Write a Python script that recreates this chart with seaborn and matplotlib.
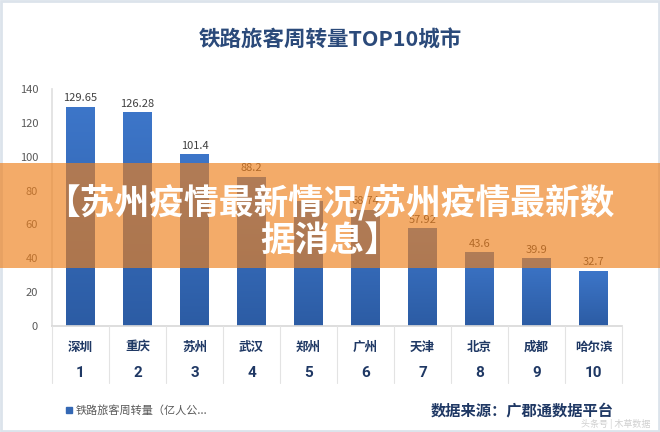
import matplotlib
matplotlib.use("Agg")
import matplotlib.pyplot as plt
import seaborn as sns
import pandas as pd
import numpy as np
from matplotlib.patches import Rectangle
from matplotlib.colors import LinearSegmentedColormap

cities = ["深圳", "重庆", "苏州", "武汉", "郑州", "广州", "天津", "北京", "成都", "哈尔滨"]
ranks = ["1", "2", "3", "4", "5", "6", "7", "8", "9", "10"]
values = [129.65, 126.28, 101.4, 88.2, 74.0, 68.74, 57.92, 43.6, 39.9, 32.7]
value_labels = ["129.65", "126.28", "101.4", "88.2", "", "68.74", "57.92", "43.6", "39.9", "32.7"]
yticks = [0, 20, 40, 60, 80, 100, 120, 140]

sns.set_theme(style="white")
plt.rcParams["font.family"] = ["Noto Sans CJK SC", "DejaVu Sans"]

df = pd.DataFrame({"city": cities, "value": values})

fig = plt.figure(figsize=(6.6, 4.32), dpi=100)
fig.patch.set_facecolor("white")
ax = fig.add_axes([52/660, 1-326/432, 570/660, 237/432])

sns.barplot(data=df, x="city", y="value", color="#3468B4", width=0.5,
            saturation=1, ax=ax, edgecolor="none")
ax.set_ylim(0, 140)
ax.set_xlim(-0.5, 9.5)

# vertical gradient fill for bars
cmap = LinearSegmentedColormap.from_list("bg", ["#2C5CA4", "#3D76C9"])
grad = np.linspace(0, 1, 256).reshape(-1, 1)
for p in list(ax.patches):
    x0, w, h = p.get_x(), p.get_width(), p.get_height()
    im = ax.imshow(grad, cmap=cmap, aspect="auto", origin="lower",
                   extent=[x0, x0 + w, 0, h], zorder=p.get_zorder() + 0.1)
    im.set_clip_path(p)
ax.set_xlim(-0.5, 9.5)
ax.set_ylim(0, 140)

ax.set_yticks(yticks)
ax.set_yticklabels([str(t) for t in yticks], fontsize=8, color="#595959")
ax.tick_params(axis="y", length=0, pad=10)
ax.set_xticks([])
ax.set_xlabel("")
ax.set_ylabel("")
for s in ["top", "right"]:
    ax.spines[s].set_visible(False)
ax.spines["left"].set_color("#E0E0E0")
ax.spines["bottom"].set_color("#D9D9D9")

for i, (v, lab) in enumerate(zip(values, value_labels)):
    if lab:
        ax.text(i, v + 2, lab, ha="center", va="bottom", fontsize=8, color="#404040")

# category table
for k in range(11):
    x = (52 + 57 * k) / 660
    fig.add_artist(plt.Line2D([x, x], [1-326/432, 1-383/432], color="#E3E3E3", lw=0.8))
for i, (c, r) in enumerate(zip(cities, ranks)):
    x = (52 + 57 * i + 28.5) / 660
    fig.text(x, 1-347/432, c, ha="center", va="center", fontsize=9, fontweight="bold", color="#1F3864")
    fig.text(x, 1-373/432, r, ha="center", va="center", fontsize=11, fontweight="bold",
             color="#1F3864", family=["Roboto", "DejaVu Sans"])

# title
fig.text(0.5, 1-40/432, "铁路旅客周转量TOP10城市", ha="center", va="center",
         fontsize=15.5, fontweight="bold", color="#2B4A7A")

# legend and source
fig.add_artist(Rectangle((66/660, 1-413/432), 6/660, 6/432, color="#3468B4", transform=fig.transFigure))
fig.text(76/660, 1-410/432, "铁路旅客周转量（亿人公...", ha="left", va="center", fontsize=8, color="#595959")
fig.text(614/660, 1-410/432, "数据来源：广郡通数据平台", ha="right", va="center",
         fontsize=11, fontweight="bold", color="#1F3864")
fig.text(650/660, 1-424/432, "头条号 | 木草数据", ha="right", va="center", fontsize=6.5, color="#D0D0D0")

# outer border
fig.add_artist(Rectangle((0.002, 0.002), 0.996, 0.996, fill=False, ec="#DCE3EB", lw=2, transform=fig.transFigure))

# banner
fig.add_artist(Rectangle((0, 1-268/432), 1, 105/432, color="#EE801C", alpha=0.66,
                         lw=0, transform=fig.transFigure, zorder=10))
fig.text(0.5, 1-203/432, "【苏州疫情最新情况/苏州疫情最新数", ha="center", va="center",
         fontsize=25, fontweight="bold", color="white", zorder=11)
fig.text(0.5, 1-240/432, "据消息】", ha="center", va="center",
         fontsize=25, fontweight="bold", color="white", zorder=11)

fig.savefig("out.png", dpi=100)
